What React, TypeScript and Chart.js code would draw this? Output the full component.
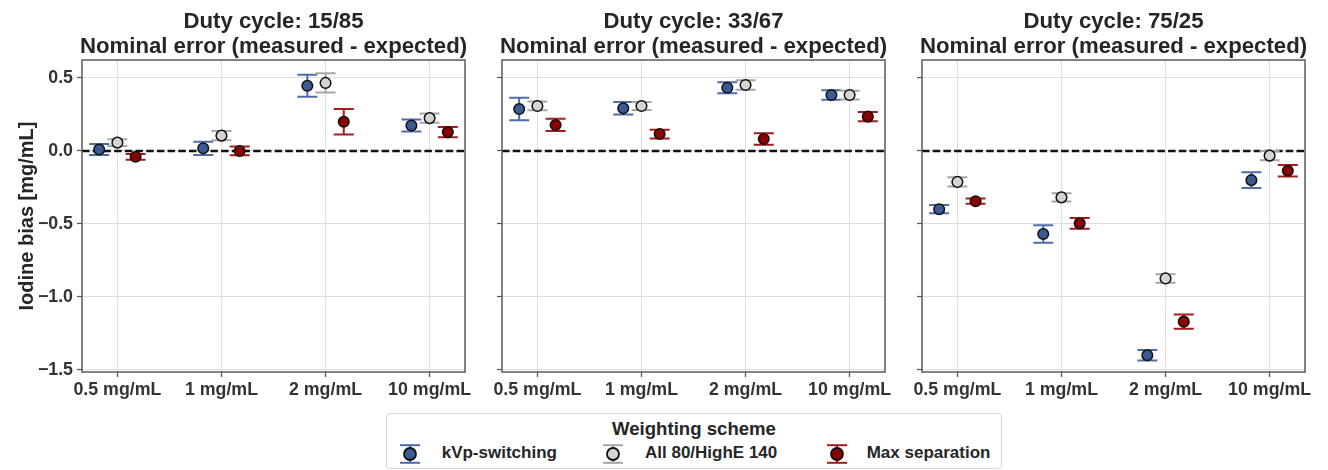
import React, { useEffect, useRef } from 'react';
import { Chart, registerables } from 'chart.js';

Chart.register(...registerables);

const FONT = "'Liberation Sans', Arial, Helvetica, sans-serif";

// ---------- data ----------
const categories = ['0.5 mg/mL', '1 mg/mL', '2 mg/mL', '10 mg/mL'];
const seriesNames = ['kVp-switching', 'All 80/HighE 140', 'Max separation'];
const yTickValues = [-1.5, -1.0, -0.5, 0.0, 0.5];
const legendTitle = 'Weighting scheme';
const yAxisTitle = 'Iodine bias [mg/mL]';

const title15 = ['Duty cycle: 15/85', 'Nominal error (measured - expected)'];
const kvp15 = [0.01, 0.018, 0.447, 0.174];
const kvp15Err = [0.038, 0.045, 0.075, 0.041];
const all15 = [0.057, 0.105, 0.466, 0.225];
const all15Err = [0.023, 0.032, 0.066, 0.032];
const max15 = [-0.04, 0.0, 0.2, 0.129];
const max15Err = [0.02, 0.03, 0.087, 0.035];

const title33 = ['Duty cycle: 33/67', 'Nominal error (measured - expected)'];
const kvp33 = [0.287, 0.292, 0.433, 0.383];
const kvp33Err = [0.077, 0.043, 0.038, 0.032];
const all33 = [0.308, 0.308, 0.452, 0.383];
const all33Err = [0.03, 0.028, 0.032, 0.03];
const max33 = [0.178, 0.116, 0.082, 0.235];
const max33Err = [0.042, 0.03, 0.039, 0.032];

const title75 = ['Duty cycle: 75/25', 'Nominal error (measured - expected)'];
const kvp75 = [-0.399, -0.569, -1.399, -0.2];
const kvp75Err = [0.028, 0.06, 0.036, 0.054];
const all75 = [-0.212, -0.318, -0.873, -0.032];
const all75Err = [0.032, 0.028, 0.029, 0.032];
const max75 = [-0.344, -0.496, -1.169, -0.136];
const max75Err = [0.018, 0.036, 0.048, 0.039];

// ---------- styles / layout ----------
const seriesStyles = [
  { fill: '#3b5b97', err: '#4f6ca8' },
  { fill: '#d4d4d4', err: '#a6a6a6' },
  { fill: '#8b0000', err: '#a61c1c' },
];
const seriesOffsets = [-0.175, 0, 0.175];
const Y_MIN = -1.514;
const Y_MAX = 0.623;
const X_MIN = -0.34;
const X_MAX = 3.34;

const PLOT_TOP = 60;
const PLOT_BOTTOM = 372;
const CANVAS_H = 405;
const TITLE_SIZE = 22.2;
const TITLE_LH = 1.1;
const TITLE_PAD_TOP = 10;

type PanelDef = {
  title: string[];
  values: number[][];
  errors: number[][];
  plotLeft: number;
  plotRight: number;
  canvasLeft: number;
  showY: boolean;
};

const panels: PanelDef[] = [
  { title: title15, values: [kvp15, all15, max15], errors: [kvp15Err, all15Err, max15Err], plotLeft: 82, plotRight: 465, canvasLeft: 0, showY: true },
  { title: title33, values: [kvp33, all33, max33], errors: [kvp33Err, all33Err, max33Err], plotLeft: 502, plotRight: 885, canvasLeft: 480, showY: false },
  { title: title75, values: [kvp75, all75, max75], errors: [kvp75Err, all75Err, max75Err], plotLeft: 922, plotRight: 1305, canvasLeft: 900, showY: false },
];

const fmtY = (v: number) => (v < 0 ? '\u2212' + Math.abs(v).toFixed(1) : v.toFixed(1));

const errorBarPlugin = {
  id: 'errorBars',
  beforeDatasetsDraw(chart: any) {
    const { ctx, chartArea, scales } = chart;
    const y = scales.y;
    ctx.save();
    const y0 = y.getPixelForValue(0);
    ctx.strokeStyle = '#111';
    ctx.lineWidth = 2.5;
    ctx.setLineDash([7.5, 3.2]);
    ctx.beginPath();
    ctx.moveTo(chartArea.left, y0);
    ctx.lineTo(chartArea.right, y0);
    ctx.stroke();
    ctx.setLineDash([]);
    chart.data.datasets.forEach((ds: any, di: number) => {
      const meta = chart.getDatasetMeta(di);
      ctx.strokeStyle = ds.errColor;
      ctx.lineWidth = 2;
      meta.data.forEach((pt: any, i: number) => {
        const v = ds.data[i].y;
        const e = ds.errors[i];
        const top = y.getPixelForValue(v + e);
        const bot = y.getPixelForValue(v - e);
        const px = pt.x;
        ctx.beginPath();
        ctx.moveTo(px, top);
        ctx.lineTo(px, bot);
        ctx.moveTo(px - 10, top);
        ctx.lineTo(px + 10, top);
        ctx.moveTo(px - 10, bot);
        ctx.lineTo(px + 10, bot);
        ctx.stroke();
      });
    });
    ctx.restore();
  },
  afterDatasetsDraw(chart: any) {
    const { ctx, chartArea } = chart;
    ctx.save();
    ctx.strokeStyle = '#5a5a5a';
    ctx.lineWidth = 1.5;
    ctx.strokeRect(chartArea.left, chartArea.top, chartArea.right - chartArea.left, chartArea.bottom - chartArea.top);
    ctx.restore();
  },
};

function Panel({ def }: { def: PanelDef }) {
  const ref = useRef<HTMLCanvasElement | null>(null);
  const yWidth = def.plotLeft - def.canvasLeft;
  const canvasW = def.plotRight - def.canvasLeft + yWidth; // symmetric around the plot area
  const rightSpace = canvasW - (def.plotRight - def.canvasLeft);

  useEffect(() => {
    if (!ref.current) return;
    const chart = new Chart(ref.current, {
      type: 'scatter',
      data: {
        datasets: def.values.map((vals, si) => ({
          label: seriesNames[si],
          data: vals.map((v, i) => ({ x: i + seriesOffsets[si], y: v })),
          errors: def.errors[si],
          errColor: seriesStyles[si].err,
          backgroundColor: seriesStyles[si].fill,
          borderColor: '#111',
          borderWidth: 1.5,
          pointRadius: 5.3,
          pointHoverRadius: 5.3,
        })) as any,
      },
      options: {
        animation: false,
        responsive: false,
        devicePixelRatio: 1,
        events: [],
        layout: { padding: 0 },
        plugins: {
          legend: { display: false },
          tooltip: { enabled: false },
          title: {
            display: true,
            text: def.title,
            color: '#262626',
            font: { family: FONT, size: TITLE_SIZE, weight: 'bold', lineHeight: TITLE_LH },
            padding: { top: TITLE_PAD_TOP, bottom: PLOT_TOP - TITLE_PAD_TOP - 2 * TITLE_SIZE * TITLE_LH },
          },
        },
        scales: {
          x: {
            type: 'linear',
            min: X_MIN,
            max: X_MAX,
            afterBuildTicks: (s: any) => {
              s.ticks = categories.map((_, i) => ({ value: i }));
            },
            afterFit: (s: any) => {
              s.height = CANVAS_H - PLOT_BOTTOM;
            },
            ticks: {
              callback: (_v: any, i: number) => categories[i],
              color: '#333',
              font: { family: FONT, size: 17.8, weight: 'bold' },
              padding: 2,
              maxRotation: 0,
              autoSkip: false,
            },
            grid: { color: '#dedede', lineWidth: 1, tickLength: 5, tickColor: '#555', tickWidth: 1.2 },
            border: { display: false },
          },
          y: {
            type: 'linear',
            position: 'left',
            min: Y_MIN,
            max: Y_MAX,
            afterBuildTicks: (s: any) => {
              s.ticks = yTickValues.map((v) => ({ value: v }));
            },
            afterFit: (s: any) => {
              s.width = yWidth;
            },
            ticks: {
              callback: (v: any) => (def.showY ? fmtY(Number(v)) : ''),
              color: '#333',
              font: { family: FONT, size: 17.8, weight: 'bold' },
              padding: 4,
            },
            grid: { color: '#dedede', lineWidth: 1, tickLength: 5, tickColor: '#555', tickWidth: 1.2 },
            border: { display: false },
            title: {
              display: def.showY,
              text: yAxisTitle,
              color: '#262626',
              font: { family: FONT, size: 20, weight: 'bold', lineHeight: 1.2 },
              padding: { top: 15, bottom: 0 },
            },
          },
          ySpacer: {
            type: 'linear',
            position: 'right',
            display: true,
            min: Y_MIN,
            max: Y_MAX,
            afterFit: (s: any) => {
              s.width = rightSpace;
            },
            ticks: { display: false },
            grid: { display: false, drawTicks: false },
            border: { display: false },
          },
        },
      } as any,
      plugins: [errorBarPlugin],
    });
    return () => chart.destroy();
  }, []);

  return (
    <canvas
      ref={ref}
      width={canvasW}
      height={CANVAS_H}
      style={{ position: 'absolute', left: def.canvasLeft, top: 0, width: canvasW, height: CANVAS_H }}
    />
  );
}

function LegendMarker({ style, left }: { style: { fill: string; err: string }; left: number }) {
  return (
    <svg width={26} height={24} style={{ position: 'absolute', left: left - 13, top: 39.7 - 12 }}>
      <line x1={3} x2={23} y1={3.2} y2={3.2} stroke={style.err} strokeWidth={2} />
      <line x1={3} x2={23} y1={20.8} y2={20.8} stroke={style.err} strokeWidth={2} />
      <line x1={13} x2={13} y1={3.2} y2={20.8} stroke={style.err} strokeWidth={2} />
      <circle cx={13} cy={12} r={6} fill={style.fill} stroke="#111" strokeWidth={1.8} />
    </svg>
  );
}

export default function App() {
  const markerX = [24, 227, 451];
  const textX = [55.7, 259, 480.7];
  return (
    <div style={{ position: 'absolute', left: 0, top: 0, width: 1328, height: 470, background: '#fff', fontFamily: FONT, overflow: 'hidden' }}>
      {panels.map((p, i) => (
        <Panel key={i} def={p} />
      ))}
      <div
        style={{
          position: 'absolute',
          left: 386,
          top: 413,
          width: 616,
          height: 56,
          boxSizing: 'border-box',
          border: '1px solid #d8d8d8',
          borderRadius: 4,
          background: '#fff',
        }}
      >
        <div
          style={{
            position: 'absolute',
            left: 0,
            top: 4,
            width: '100%',
            height: 22,
            lineHeight: '22px',
            textAlign: 'center',
            fontWeight: 'bold',
            fontSize: 18.6,
            color: '#262626',
          }}
        >
          {legendTitle}
        </div>
        {seriesNames.map((name, i) => (
          <React.Fragment key={name}>
            <LegendMarker style={seriesStyles[i]} left={markerX[i] - 1} />
            <div
              style={{
                position: 'absolute',
                left: textX[i] - 1,
                top: 39.7 - 11 - 1,
                height: 22,
                lineHeight: '22px',
                fontWeight: 'bold',
                fontSize: 17,
                color: '#262626',
                whiteSpace: 'nowrap',
              }}
            >
              {name}
            </div>
          </React.Fragment>
        ))}
      </div>
    </div>
  );
}
